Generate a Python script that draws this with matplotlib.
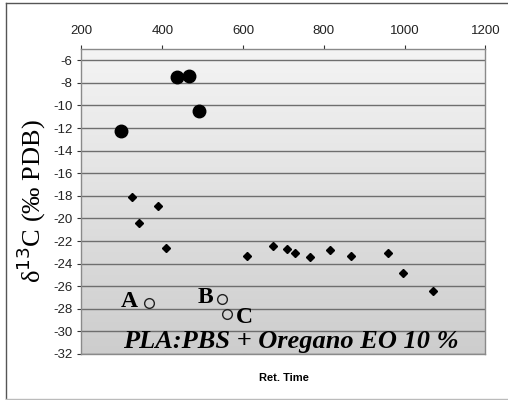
import numpy as np
import matplotlib.pyplot as plt
from matplotlib.lines import Line2D
from matplotlib.colors import LinearSegmentedColormap

plt.rcParams["axes.unicode_minus"] = False

# Datos
big_x = [298, 437, 465, 491]
big_y = [-12.3, -7.5, -7.4, -10.5]

dia_x = [326, 343, 389, 408, 610, 675, 708, 728, 766, 815, 867, 959, 996, 1069]
dia_y = [-18.1, -20.4, -18.9, -22.6, -23.3, -22.4, -22.7, -23.1, -23.45, -22.8, -23.3, -23.1, -24.8, -26.4]

open_x = [368, 547, 559]
open_y = [-27.5, -27.1, -28.5]
open_labels = ["A", "B", "C"]

x_ticks = [200, 400, 600, 800, 1000, 1200]
y_ticks = list(range(-32, -5, 2))

fig = plt.figure(figsize=(5.08, 4.0), dpi=100)
ax = fig.add_axes([0.1604, 0.115, 0.7953, 0.7625])

# Fondo degradado (claro arriba, oscuro abajo)
grad = np.linspace(0, 1, 256).reshape(-1, 1)
cmap = LinearSegmentedColormap.from_list("g", ["#f4f4f4", "#cdcdcd"])
ax.imshow(grad, cmap=cmap, aspect="auto", extent=[0, 1, 0, 1],
          transform=ax.transAxes, zorder=0)

ax.set_xlim(200, 1200)
ax.set_ylim(-32, -5)
ax.set_xticks(x_ticks)
ax.set_yticks(y_ticks)
ax.xaxis.tick_top()
ax.tick_params(axis="both", labelsize=9.5, colors="#333333", length=3,
               width=0.8, direction="out")
ax.tick_params(axis="x", pad=6)
for lab in ax.get_xticklabels() + ax.get_yticklabels():
    lab.set_fontfamily("Liberation Sans")
    lab.set_color("#222222")
for s in ax.spines.values():
    s.set_color("#8a8a8a")
    s.set_linewidth(1.0)

ax.yaxis.grid(True, color="#6e6e6e", linewidth=1.0)
ax.set_axisbelow(True)

ax.plot(big_x, big_y, "o", color="black", markersize=9, zorder=3)
ax.plot(dia_x, dia_y, "D", color="black", markersize=4, zorder=3)
ax.plot(open_x, open_y, "o", markerfacecolor="none", markeredgecolor="#222222",
        markersize=7, markeredgewidth=1.0, zorder=3)

serif = "Liberation Serif"
ax.text(open_x[0] - 28, open_y[0] + 0.15, open_labels[0], fontsize=17, fontweight="bold",
        family=serif, ha="right", va="center")
ax.text(open_x[1] - 20, open_y[1] + 0.1, open_labels[1], fontsize=17, fontweight="bold",
        family=serif, ha="right", va="center")
ax.text(open_x[2] + 22, open_y[2] - 0.3, open_labels[2], fontsize=17, fontweight="bold",
        family=serif, ha="left", va="center")

ax.text(0.519, 0.042, "PLA:PBS + Oregano EO 10 %", transform=ax.transAxes,
        fontsize=19, fontweight="bold", fontstyle="italic", family=serif,
        ha="center", va="center", zorder=4)

ax.set_ylabel(r"δ$^{13}$C (‰ PDB)", fontsize=19, family=serif, labelpad=4)
ax.set_xlabel("Ret. Time", fontsize=8, fontweight="bold", family="Liberation Sans",
              labelpad=0)
ax.xaxis.set_label_coords(0.5, -0.063)

# Marco exterior
fig.add_artist(Line2D([0.012, 0.012], [0.0, 0.993], color="#555555", lw=1,
                      transform=fig.transFigure))
fig.add_artist(Line2D([0.012, 1.0], [0.993, 0.993], color="#555555", lw=1,
                      transform=fig.transFigure))
fig.add_artist(Line2D([0.012, 1.0], [0.003, 0.003], color="#bbbbbb", lw=1,
                      transform=fig.transFigure))

plt.savefig("out.png", dpi=100)
